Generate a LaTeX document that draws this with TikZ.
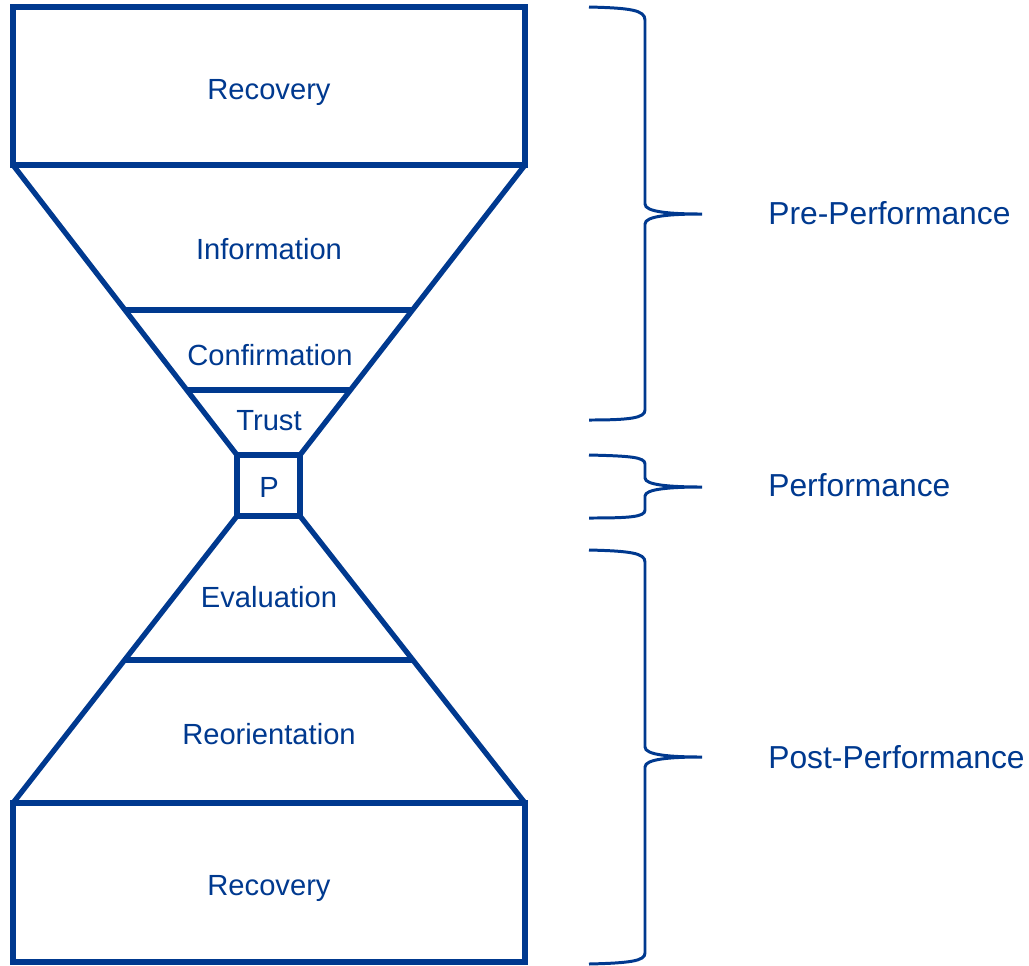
\documentclass[tikz,border=0pt]{standalone}
\usepackage{fontspec}
\setmainfont{Liberation Sans}
\usepackage{tikz}

\definecolor{hgblue}{RGB}{0,57,143}

\begin{document}
\begin{tikzpicture}[x=0.02cm, y=-0.02cm, every node/.style={text=hgblue, inner sep=0pt}] % pixel-like units, y downwards
        \useasboundingbox (0,0) rectangle (1029,965);

        % Define styles for the hourglass lines and the braces
        \tikzset{glass/.style={draw=hgblue, line width=3pt},
                 brace/.style={draw=hgblue, line width=1.7pt},
                 inlabel/.style={font=\fontsize{16.6}{19}\selectfont},
                 phase/.style={font=\fontsize{18.1}{21}\selectfont, anchor=west}}

        % Upper half of the hourglass
        \draw[glass] (13,7) rectangle (525,165);
        \draw[glass] (13,165) -- (237,455) -- (300,455) -- (525,165);
        \draw[glass] (125,310) -- (412,310);
        \draw[glass] (187,390) -- (351,390);

        % The performance box in the middle
        \draw[glass] (237,455) rectangle (300,516);

        % Lower half of the hourglass
        \draw[glass] (237,516) -- (13,803);
        \draw[glass] (300,516) -- (525,803);
        \draw[glass] (125,660) -- (412,660);
        \draw[glass] (13,803) rectangle (525,962);

        % Labels inside the hourglass
        \node[inlabel] (rec1) at (269,92) {Recovery};
        \node[inlabel] (info) at (269,249) {Information};
        \node[inlabel] (conf) at (270,355) {Confirmation};
        \node[inlabel] (trust) at (269,421) {Trust};
        \node[inlabel] (perf) at (269,487) {P};
        \node[inlabel] (eval) at (269,597) {Evaluation};
        \node[inlabel] (reor) at (269,734) {Reorientation};
        \node[inlabel] (rec2) at (269,888) {Recovery};

        % Braces on the right
        \draw[brace] (589,7) .. controls (630,8) and (645,10) .. (645,20) -- (645,204)
            .. controls (645,212) and (670,214) .. (702,214)
            .. controls (670,214) and (645,216) .. (645,224) -- (645,410)
            .. controls (645,418) and (630,420) .. (589,420);
        \draw[brace] (589,455) .. controls (630,456) and (645,457) .. (645,464) -- (645,478)
            .. controls (645,485) and (670,487) .. (702,487)
            .. controls (670,487) and (645,489) .. (645,496) -- (645,510)
            .. controls (645,517) and (630,518) .. (589,518);
        \draw[brace] (589,550) .. controls (630,551) and (645,553) .. (645,562) -- (645,747)
            .. controls (645,755) and (670,757) .. (702,757)
            .. controls (670,757) and (645,759) .. (645,767) -- (645,953)
            .. controls (645,961) and (630,963) .. (589,964);

        % Phase labels
        \node[phase] (pre) at (768,213) {Pre-Performance};
        \node[phase] (during) at (768,485) {Performance};
        \node[phase] (post) at (768,757) {Post-Performance};
\end{tikzpicture}
\end{document}
